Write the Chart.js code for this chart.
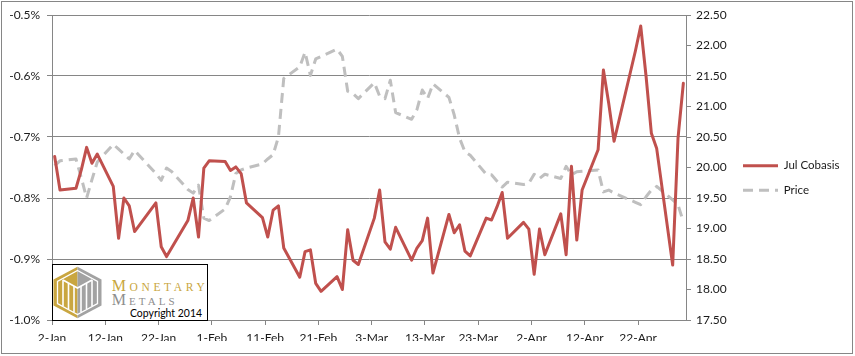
<!DOCTYPE html>
<html><head><meta charset="utf-8">
<script src="https://cdn.jsdelivr.net/npm/chart.js@4.4.1/dist/chart.umd.min.js"></script>
<style>
html,body{margin:0;padding:0;background:#fff;}
#wrap{position:relative;width:855px;height:356px;overflow:hidden;}
#c{position:absolute;left:0;top:0;}
#frame{position:absolute;left:1px;top:1px;width:850px;height:351px;border:1px solid #868686;pointer-events:none;}
#logo{position:absolute;left:52px;top:264px;width:156px;height:57px;box-sizing:border-box;border:1px solid #000;background:#fff;}
#logo svg{position:absolute;left:-1px;top:-1px;overflow:visible;}
</style></head>
<body>
<div id="wrap">
<canvas id="c" width="855" height="356"></canvas>
<div id="logo"><svg width="156" height="57" viewBox="0 0 156 57">
<polygon points="25.5,2.7 1.5,15.6 1.5,41.4 25.5,54.3" fill="#C9A640"/>
<polygon points="25.5,2.7 49.5,15.6 49.5,41.4 25.5,54.3" fill="#A2A2A2"/>
<polygon points="25.5,6.5 45.5,17.5 45.5,39.5 25.5,50.5 5.5,39.5 5.5,17.5" fill="none" stroke="#fff" stroke-width="1.3"/>
<g stroke="#fff" stroke-width="1.6">
<line x1="11" y1="16" x2="11" y2="42"/>
<line x1="16.5" y1="19" x2="16.5" y2="45"/>
<line x1="22" y1="22" x2="22" y2="48"/>
<line x1="29" y1="22" x2="29" y2="48"/>
<line x1="34.5" y1="19" x2="34.5" y2="45"/>
<line x1="40" y1="16" x2="40" y2="42"/>
<polyline points="11,16 25.5,24 40,16" fill="none"/>
</g>
<text x="59.7" y="26.7" fill="#C9A640" font-family="Liberation Serif" textLength="93" lengthAdjust="spacing"><tspan font-size="16">M</tspan><tspan font-size="11.5">ONETARY</tspan></text>
<text x="59.7" y="41" fill="#8E8E8E" font-family="Liberation Serif" textLength="63" lengthAdjust="spacing"><tspan font-size="16">M</tspan><tspan font-size="11">ETALS</tspan></text>
<text x="78" y="52.5" font-family="Lato" font-size="11.5" fill="#000" textLength="72" lengthAdjust="spacingAndGlyphs">Copyright 2014</text>
</svg></div>
<div id="frame"></div>
</div>
<script>
const dates = ['2014-01-02','2014-01-03','2014-01-06','2014-01-07','2014-01-08','2014-01-09','2014-01-10','2014-01-13','2014-01-14','2014-01-15','2014-01-16','2014-01-17','2014-01-21','2014-01-22','2014-01-23','2014-01-24','2014-01-27','2014-01-28','2014-01-29','2014-01-30','2014-01-31',
'2014-02-03','2014-02-04','2014-02-05','2014-02-06','2014-02-07','2014-02-10','2014-02-11','2014-02-12','2014-02-13','2014-02-14','2014-02-17','2014-02-18','2014-02-19','2014-02-20','2014-02-21','2014-02-24','2014-02-25','2014-02-26','2014-02-27','2014-02-28',
'2014-03-03','2014-03-04','2014-03-05','2014-03-06','2014-03-07','2014-03-10','2014-03-11','2014-03-12','2014-03-13','2014-03-14','2014-03-17','2014-03-18','2014-03-19','2014-03-20','2014-03-21','2014-03-24','2014-03-25','2014-03-26','2014-03-27','2014-03-28','2014-03-31',
'2014-04-01','2014-04-02','2014-04-03','2014-04-04','2014-04-07','2014-04-08','2014-04-09','2014-04-10','2014-04-11','2014-04-14','2014-04-15','2014-04-16','2014-04-17','2014-04-21','2014-04-22','2014-04-23','2014-04-24','2014-04-25','2014-04-28','2014-04-29','2014-04-30'];

const cobasis = [-0.732,-0.787,-0.784,-0.754,-0.717,-0.743,-0.728,-0.781,-0.866,-0.800,-0.813,-0.855,-0.808,-0.880,-0.896,-0.881,-0.837,-0.800,-0.864,-0.751,-0.739,
-0.740,-0.755,-0.749,-0.760,-0.808,-0.832,-0.864,-0.820,-0.813,-0.882,-0.930,-0.888,-0.885,-0.940,-0.953,-0.929,-0.950,-0.852,-0.902,-0.909,
-0.833,-0.787,-0.872,-0.884,-0.848,-0.902,-0.882,-0.870,-0.833,-0.923,-0.827,-0.857,-0.844,-0.887,-0.895,-0.833,-0.836,-0.815,-0.791,-0.866,-0.840,
-0.851,-0.925,-0.851,-0.893,-0.826,-0.893,-0.748,-0.869,-0.787,-0.721,-0.590,-0.645,-0.707,-0.559,-0.518,-0.600,-0.694,-0.719,-0.910,-0.702,-0.612];

const price = [20.03,20.11,20.14,19.83,19.50,19.80,20.09,20.38,20.30,20.22,20.14,20.28,19.90,19.79,19.99,19.93,19.64,19.58,19.71,19.17,19.13,
19.32,19.52,19.90,19.96,19.99,20.06,20.14,20.21,20.50,21.46,21.65,21.89,21.51,21.78,21.82,21.94,21.82,21.25,21.21,21.13,
21.39,21.17,21.13,21.43,20.90,20.79,20.95,21.27,21.13,21.37,21.15,20.86,20.48,20.26,20.20,19.89,19.88,19.78,19.68,19.76,19.72,
19.74,19.89,19.82,19.89,19.82,20.02,19.88,19.93,19.94,19.96,19.60,19.63,19.58,19.43,19.39,19.52,19.63,19.69,19.47,19.39,19.11];

const xTickLabels = ['2-Jan','12-Jan','22-Jan','1-Feb','11-Feb','21-Feb','3-Mar','13-Mar','23-Mar','2-Apr','12-Apr','22-Apr'];
const seriesNames = ['Jul Cobasis','Price'];

const DAY = 86400000;
const origin = Date.UTC(2014, 0, 2);
const dayIndex = s => { const p = s.split('-').map(Number); return (Date.UTC(p[0], p[1]-1, p[2]) - origin) / DAY; };
const xs = dates.map(dayIndex);
const xMin = -0.5, xMax = 118.5, xStep = 10;

const gridColor = '#868686';
const textColor = '#1a1a1a';
const axisFont = {family: 'Lato', size: 12};

new Chart(document.getElementById('c'), {
  type: 'line',
  data: {
    datasets: [
      {label: seriesNames[0], data: xs.map((x, i) => ({x: x, y: cobasis[i]})), yAxisID: 'y',
       borderColor: '#C0504D', backgroundColor: '#C0504D', borderWidth: 3, pointRadius: 0, tension: 0,
       borderJoinStyle: 'round', borderCapStyle: 'round'},
      {label: seriesNames[1], data: xs.map((x, i) => ({x: x, y: price[i]})), yAxisID: 'y2',
       borderColor: '#BFBFBF', backgroundColor: '#BFBFBF', borderWidth: 3, borderDash: [10, 6], pointRadius: 0, tension: 0,
       borderJoinStyle: 'round', borderCapStyle: 'butt'}
    ]
  },
  options: {
    responsive: false, animation: false, devicePixelRatio: 1,
    layout: {padding: {left: 0, top: 15, right: 15, bottom: 15}},
    plugins: {
      tooltip: {enabled: false},
      legend: {
        position: 'right', maxWidth: 110,
        labels: {
          usePointStyle: true, pointStyleWidth: 35, padding: 13, color: textColor,
          font: {family: 'Lato', size: 11.5},
          generateLabels: chart => Chart.defaults.plugins.legend.labels.generateLabels(chart).map((item, i) => {
            const ds = chart.data.datasets[i];
            return Object.assign({}, item, {pointStyle: 'line', rotation: 180, lineWidth: ds.borderWidth,
              lineDash: ds.borderDash || [], strokeStyle: ds.borderColor, lineCap: 'butt'});
          })
        }
      }
    },
    scales: {
      x: {
        type: 'linear', min: xMin, max: xMax,
        afterBuildTicks: s => { s.ticks = xTickLabels.map((_, i) => ({value: xMin + i * xStep})); },
        afterFit: s => { s.height = 21; },
        ticks: {autoSkip: false, maxRotation: 0, padding: 6, color: textColor, font: axisFont,
                callback: (v, i) => xTickLabels[i]},
        grid: {drawOnChartArea: false, color: gridColor, tickLength: 5},
        border: {color: gridColor}
      },
      y: {
        position: 'left', min: -1.0, max: -0.5,
        afterFit: s => { s.width = 52; },
        ticks: {stepSize: 0.1, padding: 7, color: textColor, font: axisFont, callback: v => v.toFixed(1) + '%'},
        grid: {color: gridColor, tickLength: 5},
        border: {color: gridColor}
      },
      y2: {
        position: 'right', min: 17.5, max: 22.5,
        afterFit: s => { s.width = 44; },
        ticks: {stepSize: 0.5, padding: 5, color: textColor, font: axisFont, callback: v => v.toFixed(2)},
        grid: {drawOnChartArea: false, color: gridColor, tickLength: 5},
        border: {color: gridColor}
      }
    }
  }
});
</script>
</body></html>
